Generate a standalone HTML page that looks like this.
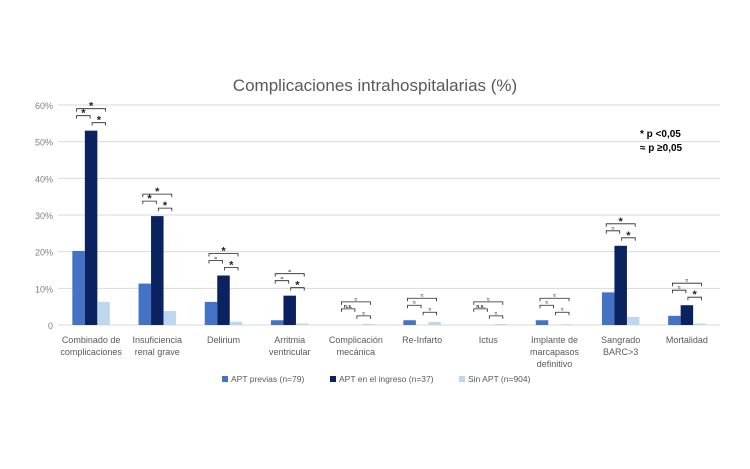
<!DOCTYPE html>
<html><head><meta charset="utf-8"><style>
html,body{margin:0;padding:0;background:#fff;}
svg{display:block;font-family:"Liberation Sans",sans-serif;}
</style></head><body>
<svg id="c" width="750" height="469" viewBox="0 0 750 469">
<text x="375" y="91" text-anchor="middle" font-size="17" fill="#595959">Complicaciones intrahospitalarias (%)</text>
<g id="grid"></g><g id="bars"></g><g id="sig"></g><g id="xl"></g>
<text x="640" y="137" font-size="10" font-weight="bold" fill="#000">* p &lt;0,05</text>
<text x="640" y="151" font-size="10" font-weight="bold" fill="#000">≈ p ≥0,05</text>
<g>
<rect x="222" y="376" width="6" height="6" fill="#4472C4"/>
<text x="231" y="382" font-size="8.5" fill="#595959">APT previas (n=79)</text>
<rect x="330" y="376" width="6" height="6" fill="#0B2260"/>
<text x="339" y="382" font-size="8.5" fill="#595959">APT en el ingreso (n=37)</text>
<rect x="459" y="376" width="6" height="6" fill="#BDD7EE"/>
<text x="468" y="382" font-size="8.5" fill="#595959">Sin APT (n=904)</text>
</g>
</svg>
<script>
const categories=[["Combinado de","complicaciones"],["Insuficiencia","renal grave"],["Delirium"],["Arritmia","ventricular"],["Complicación","mecánica"],["Re-Infarto"],["Ictus"],["Implante de","marcapasos","definitivo"],["Sangrado","BARC>3"],["Mortalidad"]];
const previas=[20.2,11.3,6.3,1.3,0,1.3,0,1.3,8.9,2.5];
const ingreso=[53,29.7,13.5,8,0,0,0,0,21.6,5.4];
const sinApt=[6.3,3.8,0.9,0.4,0.3,0.8,0.3,0.2,2.2,0.4];
const yTicks=[0,10,20,30,40,50,60];
const yTickLabels=["0","10%","20%","30%","40%","50%","60%"];
const sigAB=["*","*","≈","≈","n.s.","≈","n.s.","≈","≈","≈"];
const sigBC=["*","*","*","*","≈","≈","≈","≈","*","*"];
const sigAC=["*","*","*","≈","≈","≈","≈","≈","*","≈"];
const NS="http://www.w3.org/2000/svg";
const x0=58,x1=720,y0=325,yTop=105;
const y=v=>y0-(v/60)*(y0-yTop);
const band=(x1-x0)/categories.length;
const cx=i=>x0+band*(i+0.5);
function mk(t,a,p){const e=document.createElementNS(NS,t);for(const k in a)e.setAttribute(k,a[k]);p.appendChild(e);return e;}
const G=document.getElementById('grid');
yTicks.forEach((t,i)=>{
 const l=mk('line',{x1:x0,x2:x1,y1:y(t),y2:y(t),stroke:'#d9d9d9','stroke-width':1},G);
 
 
 const tx=mk('text',{x:53,y:y(t)+4,'text-anchor':'end','font-size':9,fill:'#7f7f7f'},G);
 tx.textContent=yTickLabels[i];
 
 
});
const B=document.getElementById('bars'),S=document.getElementById('sig'),X=document.getElementById('xl');
const cols=['#4472C4','#0B2260','#BDD7EE'],series=[previas,ingreso,sinApt],names=['previas','ingreso','sin-apt'];
const bw=12.5;
categories.forEach((c,i)=>{
 const xs=[cx(i)-bw*1.5,cx(i)-bw*0.5,cx(i)+bw*0.5];
 series.forEach((s,k)=>{
  const r=mk('rect',{x:xs[k],y:y(s[i]),width:bw,height:y0-y(s[i]),fill:cols[k]},B);
  
  
 });
 c.forEach((ln,j)=>{
  const t=mk('text',{x:cx(i),y:343+j*12,'text-anchor':'middle','font-size':9,fill:'#595959'},X);
  t.textContent=ln;
  
  
 });
 const m=Math.max(previas[i],ingreso[i],sinApt[i]);
 const base=y(m)-5;
 const mids=xs.map(v=>v+bw/2);
 const br=(a,b,yy,lab)=>{
  const p=mk('path',{d:`M${a},${yy+3}V${yy}H${b}V${yy+3}`,fill:'none',stroke:'#222','stroke-width':0.8},S);
  
  
  const star=lab==='*';
  const t=mk('text',{x:(a+b)/2,y:star?yy+1:yy-1,'text-anchor':'middle','font-size':star?11:5,'font-weight':'bold',fill:'#222'},S);
  t.textContent=lab;
  
  
 };
 br(mids[1]+1,mids[2]+2,base-3,sigBC[i]);
 br(mids[0]-2,mids[1]-1,base-10,sigAB[i]);
 br(mids[0]-2,mids[2]+2,base-17,sigAC[i]);
});
</script>
</body></html>
